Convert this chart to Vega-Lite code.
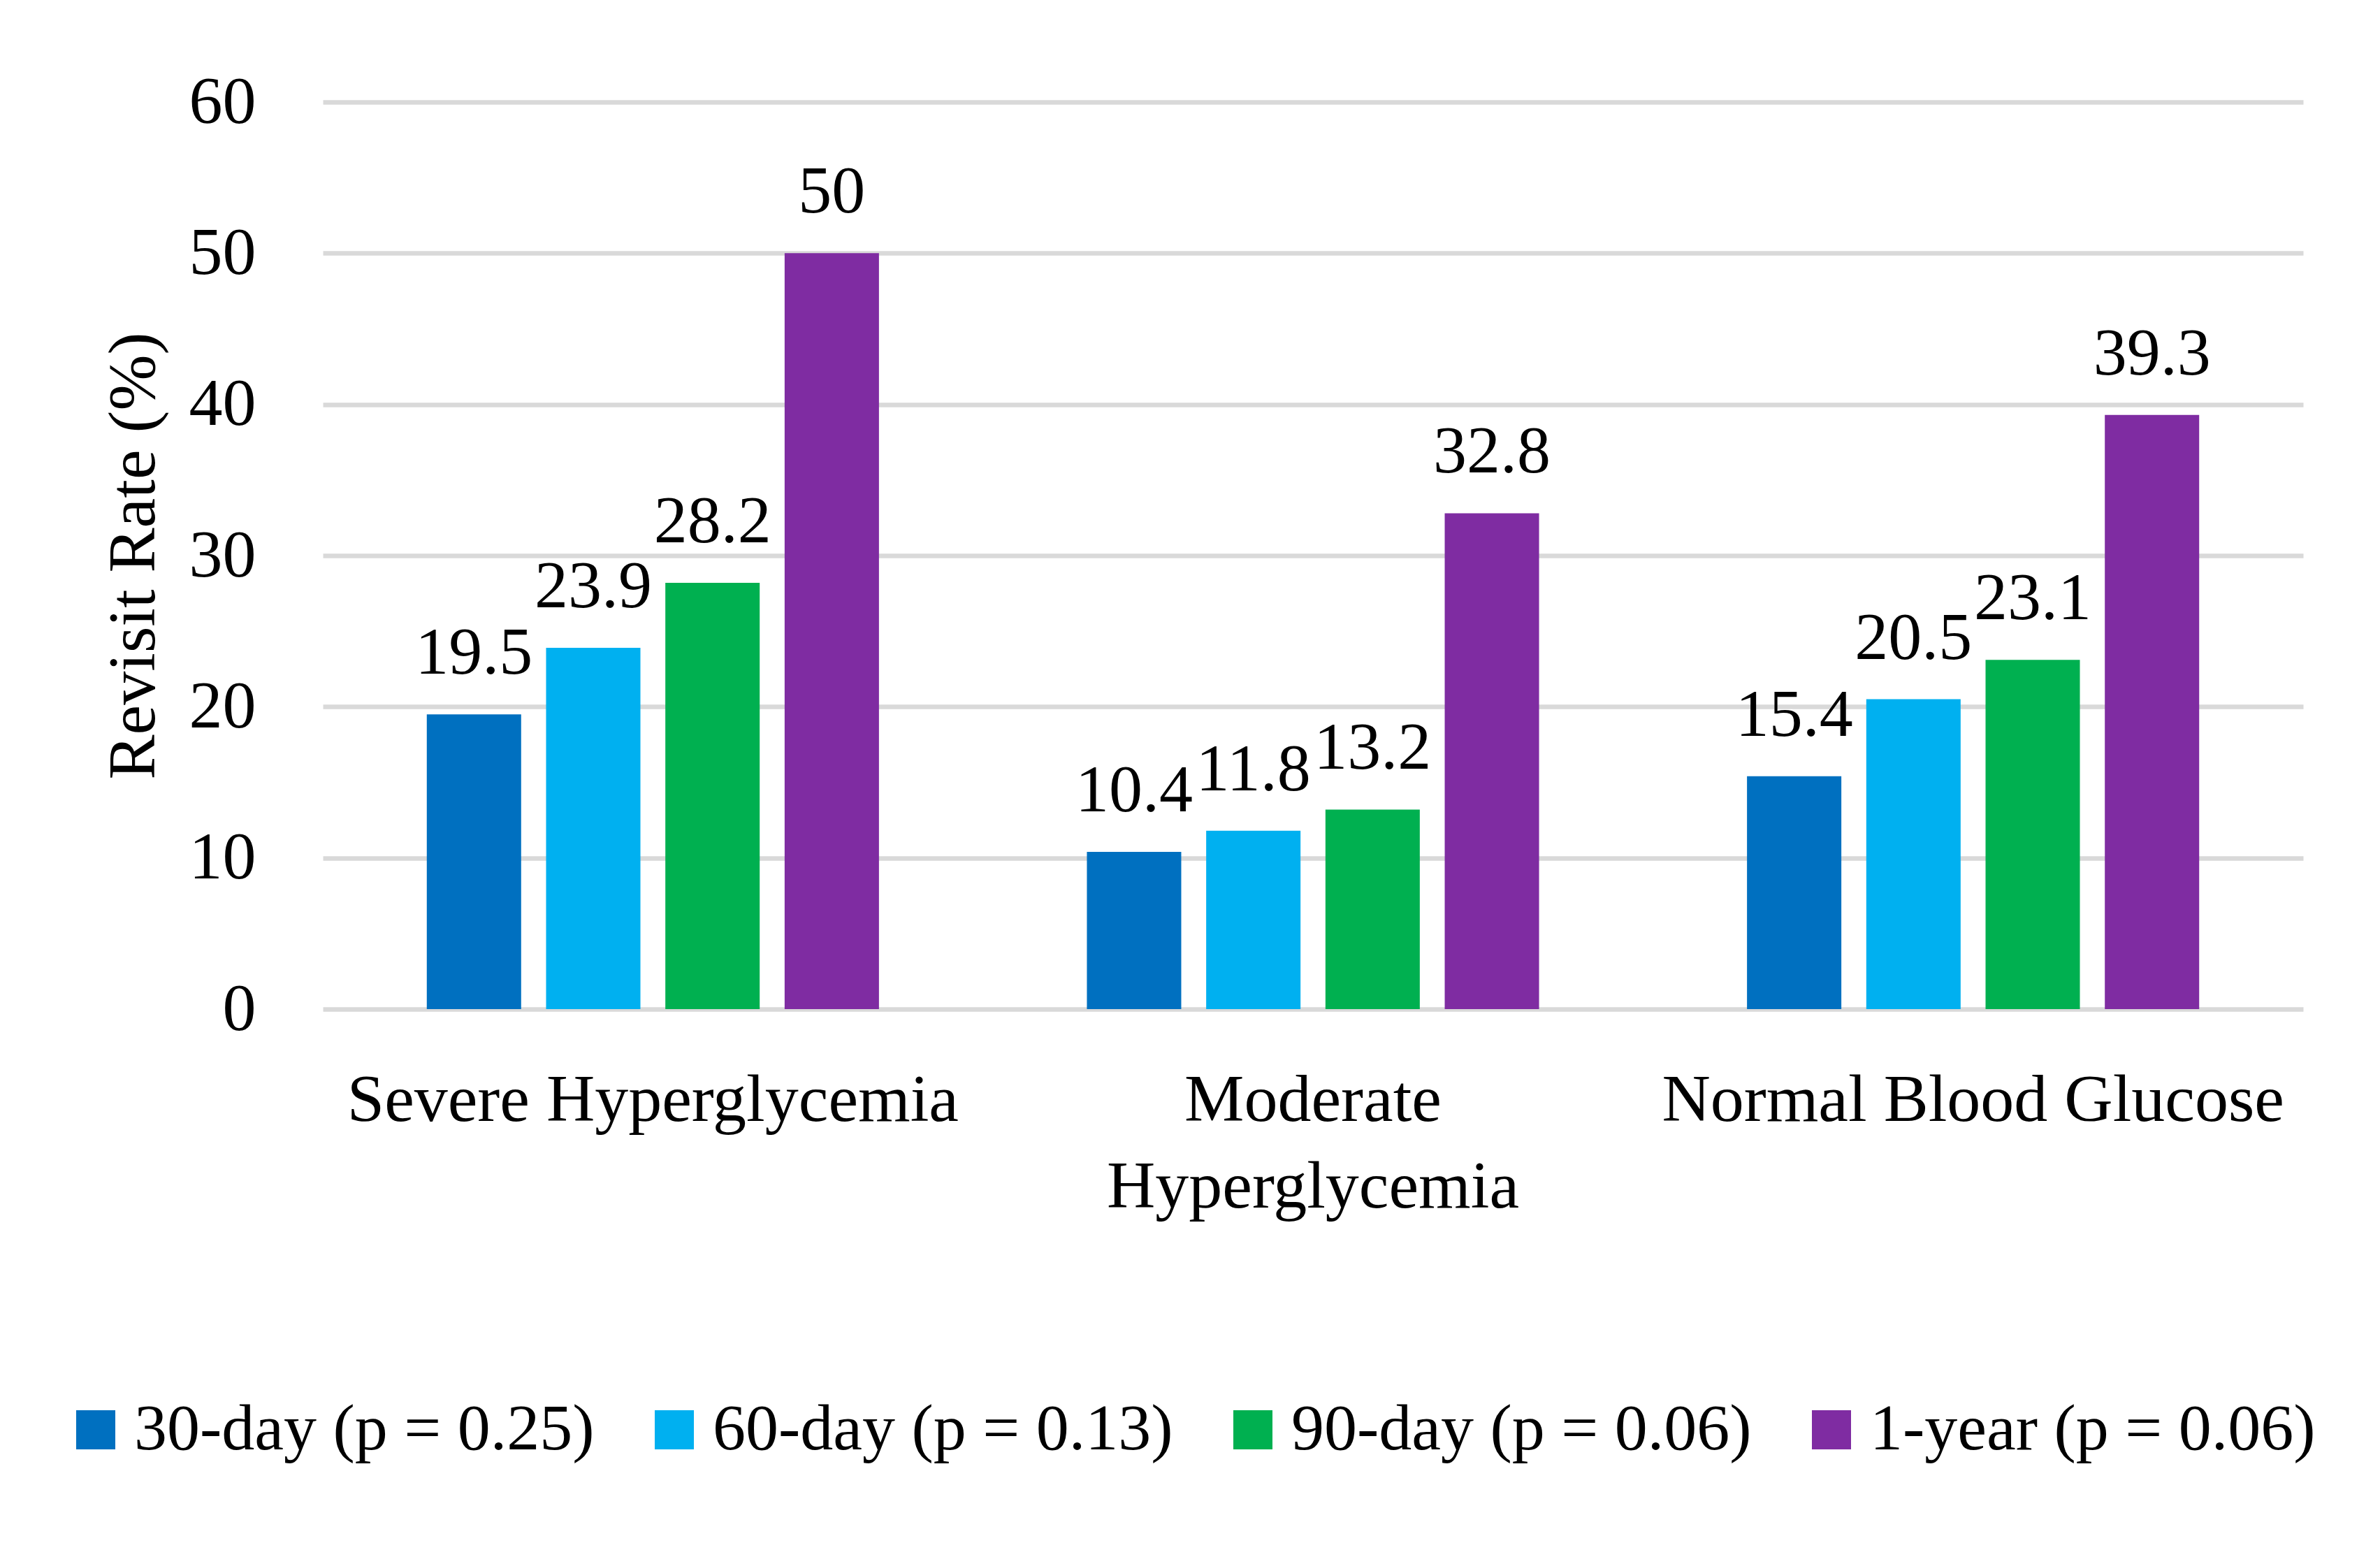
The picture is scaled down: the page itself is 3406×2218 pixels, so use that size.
{
  "$schema": "https://vega.github.io/schema/vega-lite/v6.json",
  "width": 2834,
  "height": 1298,
  "autosize": {"type": "none"},
  "padding": {"left": 462, "top": 146, "right": 110, "bottom": 774},
  "background": "white",
  "config": {"font": "Liberation Serif", "view": {"stroke": null}},
  "data": {
    "values": [
      {"group": "Severe Hyperglycemia", "period": "30-day (p = 0.25)", "rate": 19.5},
      {"group": "Severe Hyperglycemia", "period": "60-day (p = 0.13)", "rate": 23.9},
      {"group": "Severe Hyperglycemia", "period": "90-day (p = 0.06)", "rate": 28.2},
      {"group": "Severe Hyperglycemia", "period": "1-year (p = 0.06)", "rate": 50},
      {"group": "Moderate Hyperglycemia", "period": "30-day (p = 0.25)", "rate": 10.4},
      {"group": "Moderate Hyperglycemia", "period": "60-day (p = 0.13)", "rate": 11.8},
      {"group": "Moderate Hyperglycemia", "period": "90-day (p = 0.06)", "rate": 13.2},
      {"group": "Moderate Hyperglycemia", "period": "1-year (p = 0.06)", "rate": 32.8},
      {"group": "Normal Blood Glucose", "period": "30-day (p = 0.25)", "rate": 15.4},
      {"group": "Normal Blood Glucose", "period": "60-day (p = 0.13)", "rate": 20.5},
      {"group": "Normal Blood Glucose", "period": "90-day (p = 0.06)", "rate": 23.1},
      {"group": "Normal Blood Glucose", "period": "1-year (p = 0.06)", "rate": 39.3}
    ]
  },
  "encoding": {
    "x": {
      "field": "group",
      "type": "nominal",
      "sort": ["Severe Hyperglycemia", "Moderate Hyperglycemia", "Normal Blood Glucose"],
      "scale": {"paddingInner": 0.315, "paddingOuter": 0.1575},
      "axis": {
        "title": null,
        "labelAngle": 0,
        "ticks": false,
        "tickSize": 0,
        "domain": false,
        "grid": false,
        "labelFontSize": 96,
        "labelPadding": 83,
        "labelBaseline": "top",
        "labelExpr": "datum.label == 'Moderate Hyperglycemia' ? ['Moderate', 'Hyperglycemia'] : datum.label",
        "labelLineHeight": 124,
        "labelLimit": 0,
        "labelColor": "black"
      }
    },
    "xOffset": {
      "field": "period",
      "type": "nominal",
      "sort": ["30-day (p = 0.25)", "60-day (p = 0.13)", "90-day (p = 0.06)", "1-year (p = 0.06)"],
      "scale": {"paddingInner": 0.209, "paddingOuter": 0}
    },
    "y": {
      "field": "rate",
      "type": "quantitative",
      "scale": {"domain": [0, 60], "nice": false},
      "axis": {
        "title": "Revisit Rate (%)",
        "values": [0, 10, 20, 30, 40, 50, 60],
        "ticks": false,
        "tickSize": 0,
        "domain": false,
        "gridColor": "#d9d9d9",
        "gridWidth": 6.5,
        "labelFontSize": 96,
        "labelPadding": 96,
        "labelColor": "black",
        "titleFontSize": 96,
        "titleFontWeight": "normal",
        "titleColor": "black",
        "titlePadding": 30
      }
    }
  },
  "layer": [
    {
      "mark": {"type": "bar"},
      "encoding": {
        "color": {
          "field": "period",
          "type": "nominal",
          "sort": ["30-day (p = 0.25)", "60-day (p = 0.13)", "90-day (p = 0.06)", "1-year (p = 0.06)"],
          "scale": {
            "domain": ["30-day (p = 0.25)", "60-day (p = 0.13)", "90-day (p = 0.06)", "1-year (p = 0.06)"],
            "range": ["#0070C0", "#00B0F0", "#00B050", "#7F2CA2"]
          },
          "legend": {
            "title": null,
            "orient": "none",
            "legendX": -372,
            "legendY": 1853,
            "direction": "horizontal",
            "columns": 4,
            "symbolType": "square",
            "symbolSize": 3136,
            "symbolStrokeWidth": 0,
            "labelFontSize": 94,
            "labelOffset": 8,
            "columnPadding": 67,
            "labelLimit": 0,
            "labelColor": "black"
          }
        }
      }
    },
    {
      "mark": {"type": "text", "dy": -58, "baseline": "alphabetic", "fontSize": 96, "color": "black"},
      "encoding": {
        "text": {"field": "rate", "type": "quantitative", "format": ".1~f"}
      }
    }
  ]
}
